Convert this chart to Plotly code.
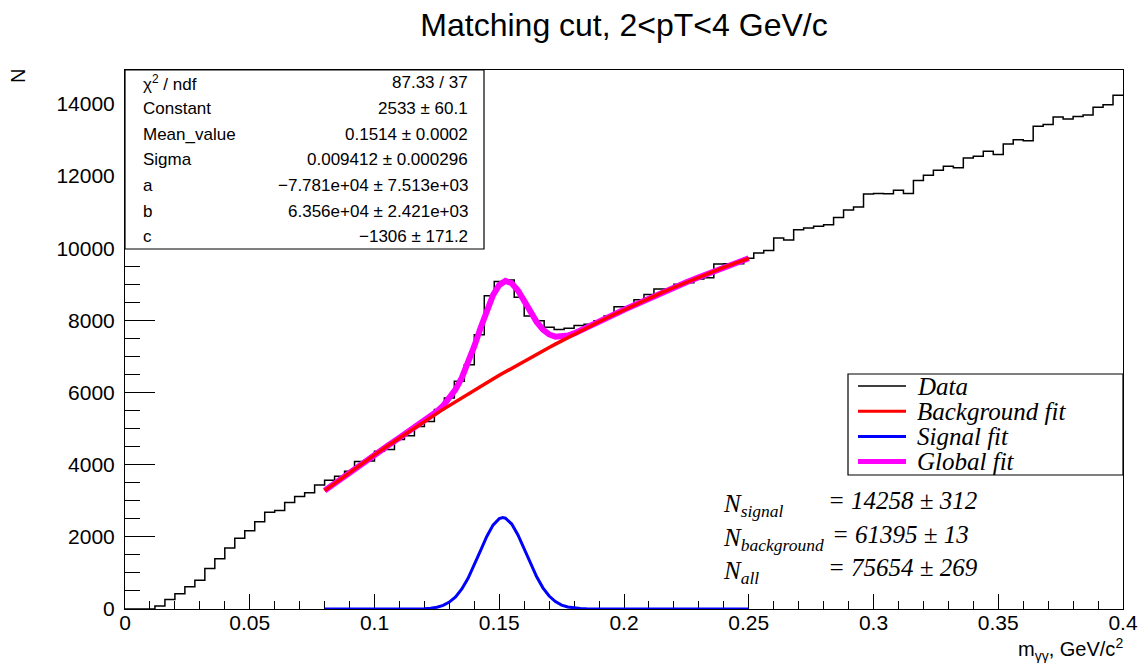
import numpy as np
import plotly.graph_objects as go

# ---------------- data ----------------
n_bins = 100
x_min, x_max = 0.0, 0.4
counts = [0, 0, 0, 80, 260, 425, 620, 795, 1120, 1390,
          1690, 1960, 2170, 2420, 2680, 2730, 2950, 3120, 3220, 3440,
          3570, 3680, 3820, 4090, 4100, 4370, 4420, 4700, 4800, 5060,
          5200, 5530, 5850, 6310, 6770, 7600, 8680, 9080, 9120, 8640,
          8120, 7990, 7810, 7745, 7780, 7860, 7890, 7990, 8120, 8380,
          8380, 8570, 8720, 8870, 8870, 9000, 9040, 9150, 9180, 9560,
          9570, 9570, 9720, 9870, 9940, 10280, 10230, 10510, 10560, 10610,
          10650, 10850, 11060, 11140, 11500, 11520, 11510, 11610, 11520, 11880,
          12020, 12160, 12270, 12230, 12500, 12550, 12690, 12600, 12890, 13010,
          12980, 13380, 13430, 13640, 13580, 13650, 13690, 13910, 13980, 14240]

fit_x = [0.080, 0.085, 0.090, 0.095, 0.100, 0.105, 0.110, 0.115, 0.120, 0.1225,
         0.125, 0.1275, 0.130, 0.1325, 0.135, 0.1375, 0.140, 0.1425, 0.145, 0.1475,
         0.150, 0.1514, 0.1525, 0.155, 0.1575, 0.160, 0.1625, 0.165, 0.1675, 0.170,
         0.1725, 0.175, 0.1775, 0.180, 0.1825, 0.185, 0.190, 0.195, 0.200, 0.205,
         0.210, 0.215, 0.220, 0.225, 0.230, 0.235, 0.240, 0.245, 0.250]
bkg_fit = [3280.8, 3534.4, 3784.1, 4030.0, 4271.9, 4509.9, 4744.1, 4974.4, 5200.7, 5312.5,
           5423.2, 5533.0, 5641.8, 5749.7, 5856.5, 5962.4, 6067.3, 6171.2, 6274.2, 6376.2,
           6477.3, 6533.4, 6577.3, 6676.4, 6774.5, 6871.7, 6967.9, 7063.0, 7157.3, 7250.5,
           7342.8, 7434.1, 7524.5, 7613.8, 7702.2, 7789.6, 7961.5, 8129.5, 8293.6, 8453.8,
           8610.2, 8762.6, 8911.2, 9055.9, 9196.7, 9333.5, 9466.5, 9595.7, 9720.9]
sig_fit = [0.0, 0.0, 0.0, 0.0, 0.0, 0.0, 0.2, 1.4, 9.7, 22.7,
           49.6, 100.8, 191.1, 337.4, 555.0, 851.3, 1216.4, 1619.6, 2010.2, 2324.6,
           2505.1, 2533.0, 2515.8, 2354.4, 2053.2, 1668.7, 1263.7, 891.6, 586.4, 359.4,
           205.3, 109.2, 54.2, 25.0, 10.8, 4.3, 0.6, 0.0, 0.0, 0.0,
           0.0, 0.0, 0.0, 0.0, 0.0, 0.0, 0.0, 0.0, 0.0]
global_fit = [3280.8, 3534.4, 3784.1, 4030.0, 4271.9, 4509.9, 4744.3, 4975.8, 5210.4, 5335.2,
              5472.8, 5633.8, 5832.9, 6087.1, 6411.5, 6813.7, 7283.7, 7790.8, 8284.4, 8700.8,
              8982.4, 9066.4, 9093.1, 9030.8, 8827.7, 8540.4, 8231.6, 7954.6, 7743.7, 7609.9,
              7548.1, 7543.3, 7578.7, 7638.8, 7713.0, 7793.9, 7962.1, 8129.5, 8293.6, 8453.8,
              8610.2, 8762.6, 8911.2, 9055.9, 9196.7, 9333.5, 9466.5, 9595.7, 9720.9]

stat_labels = ["χ<sup>2</sup> / ndf", "Constant", "Mean_value", "Sigma", "a", "b", "c"]
stat_values = ["87.33 / 37", "2533 ± 60.1", "0.1514 ± 0.0002", "0.009412 ± 0.000296",
               "−7.781e+04 ± 7.513e+03", "6.356e+04 ± 2.421e+03", "−1306 ± 171.2"]
legend_names = ["Data", "Background fit", "Signal fit", "Global fit"]
n_labels = ["N<sub>signal</sub>", "N<sub>background</sub>", "N<sub>all</sub>"]
n_values = ["= 14258 ± 312", "= 61395 ± 13", "= 75654 ± 269"]

# ---------------- layout helpers ----------------
W, H = 1142, 663
L, R, T, B = 125, 19, 70, 54
PW, PH = W - L - R, H - T - B


def px(x):
    return (x - L) / PW


def py(y):
    return (H - B - y) / PH


SANS = "Liberation Sans, Arial, Helvetica, sans-serif"
SERIF = "Liberation Serif, Times New Roman, serif"

edges = np.linspace(x_min, x_max, n_bins + 1)
hist_x = list(edges[:-1]) + [x_max]
hist_y = list(counts) + [counts[-1]]

fig = go.Figure()
fig.add_trace(go.Scatter(x=hist_x, y=hist_y, mode="lines", line_shape="hv",
                         line=dict(color="black", width=1.5), name=legend_names[0],
                         showlegend=False))
fig.add_trace(go.Scatter(x=fit_x, y=global_fit, mode="lines",
                         line=dict(color="#ff00ff", width=6), name=legend_names[3],
                         showlegend=False))
fig.add_trace(go.Scatter(x=fit_x, y=bkg_fit, mode="lines",
                         line=dict(color="#ff0000", width=3.5), name=legend_names[1],
                         showlegend=False))
fig.add_trace(go.Scatter(x=fit_x, y=sig_fit, mode="lines", cliponaxis=False,
                         line=dict(color="#0000ff", width=3), name=legend_names[2],
                         showlegend=False))

shapes = []
annotations = []

# stats box
shapes.append(dict(type="rect", xref="paper", yref="paper", x0=px(125), x1=px(484),
                   y0=py(70), y1=py(249), line=dict(color="black", width=1.2),
                   fillcolor="white", layer="above"))
for k, (lab, val) in enumerate(zip(stat_labels, stat_values)):
    yc = py(83 + 25.6 * k)
    annotations.append(dict(xref="paper", yref="paper", x=px(141), y=yc, text=lab,
                            xanchor="left", yanchor="middle", showarrow=False,
                            font=dict(family=SANS, size=17, color="black")))
    annotations.append(dict(xref="paper", yref="paper", x=px(470), y=yc, text=val,
                            xanchor="right", yanchor="middle", showarrow=False,
                            font=dict(family=SANS, size=17, color="black")))

# legend box
shapes.append(dict(type="rect", xref="paper", yref="paper", x0=px(848), x1=px(1123),
                   y0=py(374), y1=py(475), line=dict(color="black", width=1.2),
                   fillcolor="white", layer="above"))
leg_styles = [("black", 1.3), ("#ff0000", 3), ("#0000ff", 3), ("#ff00ff", 5)]
for k, (name, (col, wd)) in enumerate(zip(legend_names, leg_styles)):
    yy = 386 + 25.2 * k
    shapes.append(dict(type="line", xref="paper", yref="paper", x0=px(858), x1=px(906),
                       y0=py(yy), y1=py(yy), line=dict(color=col, width=wd), layer="above"))
    annotations.append(dict(xref="paper", yref="paper", x=px(915), y=py(yy),
                            text="<i>" + name + "</i>", xanchor="left", yanchor="middle",
                            showarrow=False, font=dict(family=SERIF, size=25, color="black")))

# N texts
n_rows = [500, 534, 567]
eq_x = [826, 830, 826]
for lab, val, yy, ex in zip(n_labels, n_values, n_rows, eq_x):
    annotations.append(dict(xref="paper", yref="paper", x=px(721), y=py(yy + 5),
                            text="<i>" + lab + "</i>", xanchor="left", yanchor="middle",
                            showarrow=False, font=dict(family=SERIF, size=25, color="black")))
    annotations.append(dict(xref="paper", yref="paper", x=px(ex), y=py(yy),
                            text="<i>" + val + "</i>", xanchor="left", yanchor="middle",
                            showarrow=False, font=dict(family=SERIF, size=25, color="black")))

# axis titles
annotations.append(dict(xref="paper", yref="paper", x=px(18), y=py(76), text="N",
                        textangle=-90, xanchor="center", yanchor="middle", showarrow=False,
                        font=dict(family=SANS, size=20, color="black")))
annotations.append(dict(xref="paper", yref="paper", x=px(1125), y=py(649),
                        text="m<sub>γγ</sub>, GeV/c<sup>2</sup>", xanchor="right",
                        yanchor="middle", showarrow=False,
                        font=dict(family=SANS, size=20, color="black")))

fig.update_layout(
    width=W, height=H,
    margin=dict(l=L, r=R, t=T, b=B, pad=0),
    paper_bgcolor="white", plot_bgcolor="white",
    showlegend=False,
    title=dict(text="Matching cut, 2<pT<4 GeV/c", x=px(624), xref="paper", xanchor="center",
               y=1 - 25 / H, yref="container", yanchor="middle",
               font=dict(family=SANS, size=32, color="black")),
    shapes=shapes, annotations=annotations,
    xaxis=dict(range=[x_min, x_max], showgrid=False, zeroline=False, automargin=False,
               showline=True, linecolor="black", linewidth=1, mirror=True,
               ticks="inside", ticklen=15, tickcolor="black", tickwidth=1,
               dtick=0.05, tick0=0, layer="below traces",
               ticklabelstandoff=-5,
               minor=dict(ticks="inside", ticklen=8, dtick=0.01, tickcolor="black",
                          tickwidth=1, showgrid=False),
               tickfont=dict(family=SANS, size=21, color="black")),
    yaxis=dict(range=[0, 14940], showgrid=False, zeroline=False, automargin=False,
               showline=True, linecolor="black", linewidth=1, mirror=True,
               ticks="inside", ticklen=30, tickcolor="black", tickwidth=1,
               dtick=2000, tick0=0, tickformat="d", layer="below traces",
               ticklabelstandoff=5,
               minor=dict(ticks="inside", ticklen=15, dtick=500, tickcolor="black",
                          tickwidth=1, showgrid=False),
               tickfont=dict(family=SANS, size=21, color="black")),
)

fig.write_html("out.html", config={"displayModeBar": False},
               post_script="document.body.style.margin='0px';document.body.style.overflow='hidden';")
